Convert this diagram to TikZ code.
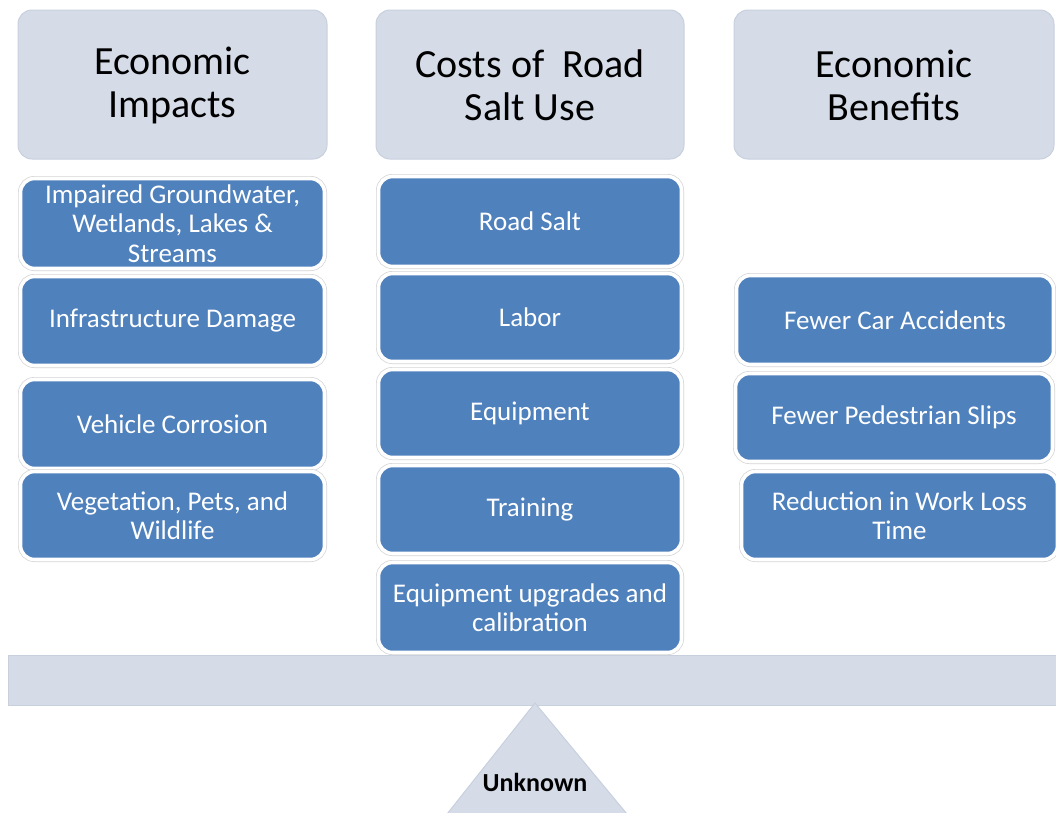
\documentclass[tikz,border=0pt]{standalone}
\usepackage{fontspec}
\setmainfont{Carlito}
\definecolor{hdrfill}{HTML}{D5DCE8}
\definecolor{hdrline}{HTML}{C8D0DE}
\definecolor{boxblue}{HTML}{4F81BD}
\definecolor{shade}{HTML}{D4D4D4}
\tikzset{
  hdr/.style={fill=hdrfill, draw=hdrline, line width=1pt, rounded corners=14pt, inner sep=0pt},
  hdrtext/.style={font=\fontsize{40}{43}\selectfont, align=center, inner sep=0pt},
  bluebox/.style={fill=boxblue, rounded corners=14pt,
    preaction={draw=shade, line width=5pt},
    draw=white, line width=3.6pt,
    text=white, font=\fontsize{27}{29.5}\selectfont, align=center, inner sep=0pt},
  beam/.style={fill=hdrfill, draw=hdrline, line width=1pt},
}
\begin{document}
\begin{tikzpicture}[x=1pt,y=-1pt]
\useasboundingbox (0,0) rectangle (1056,812);
\clip (0,0) rectangle (1056,812);
\fill[white] (0,0) rectangle (1056,812);
% headers
\node[hdr, minimum width=309pt, minimum height=149pt] (h1) at (172.5,84.5) {};
\node[hdr, minimum width=308pt, minimum height=149pt] (h2) at (530,84.5) {};
\node[hdr, minimum width=320pt, minimum height=149pt] (h3) at (894,84.5) {};
\node[hdrtext] (t1) at (h1.center) [yshift=-0.8pt] {Economic\\Impacts};
\node[hdrtext] (t2) at (h2.center) [yshift=-0.8pt] {Costs of~ Road\\Salt Use};
\node[hdrtext] (t3) at (h3.center) [yshift=-0.8pt] {Economic\\Benefits};
% left column
\node[bluebox, minimum width=304pt, minimum height=90pt] (l1) at (172.5,223.5) {Impaired Groundwater,\\Wetlands, Lakes \&\\Streams};
\node[bluebox, minimum width=304pt, minimum height=89pt] (l2) at (172.5,321) {Infrastructure Damage};
\node[bluebox, minimum width=304pt, minimum height=89pt] (l3) at (172.5,424) {Vehicle Corrosion};
\node[bluebox, minimum width=304pt, minimum height=88pt] (l4) at (172.5,515.5) {Vegetation, Pets, and\\Wildlife};
% middle column
\node[bluebox, minimum width=303pt, minimum height=90pt] (m1) at (530,221.5) {Road Salt};
\node[bluebox, minimum width=303pt, minimum height=88pt] (m2) at (530,317.5) {Labor};
\node[bluebox, minimum width=303pt, minimum height=88pt] (m3) at (530,413.5) {Equipment};
\node[bluebox, minimum width=303pt, minimum height=88pt] (m4) at (530,509.5) {Training};
\node[bluebox, minimum width=303pt, minimum height=90pt] (m5) at (530,607.5) {Equipment upgrades and\\calibration};
% right column
\node[bluebox, minimum width=317pt, minimum height=89pt] (r1) at (895,320) {Fewer Car Accidents};
\node[bluebox, minimum width=317pt, minimum height=88pt] (r2) at (894,417.5) {Fewer Pedestrian Slips};
\node[bluebox, minimum width=316pt, minimum height=88pt] (r3) at (899.5,515.5) {Reduction in Work Loss\\Time};
% beam and fulcrum
\draw[beam] (8,655) rectangle (1070,705);
\draw[beam] (535,703) -- (447,814) -- (627,814) -- cycle;
\node[font=\fontsize{26}{28}\selectfont\bfseries, inner sep=0pt] (unk) at (535,782) {Unknown};
\end{tikzpicture}
\end{document}
